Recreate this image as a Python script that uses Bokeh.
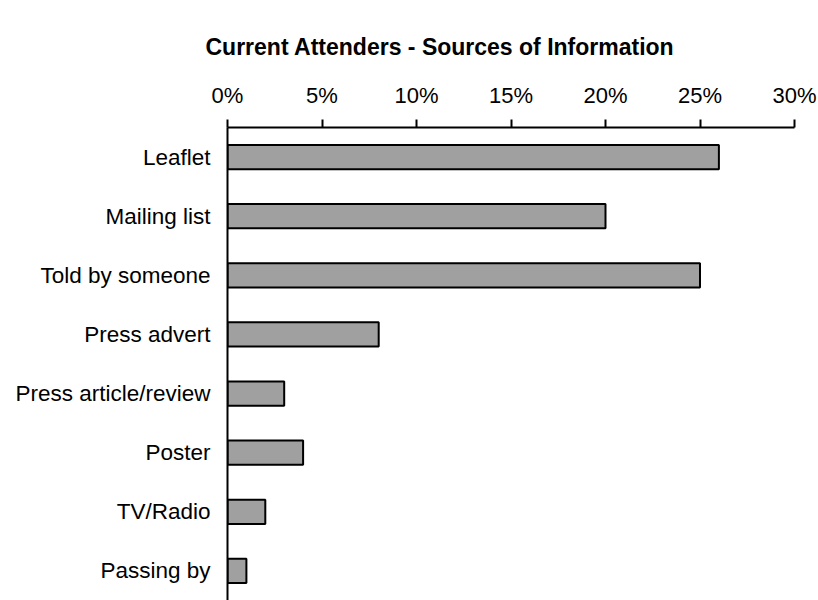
from bokeh.plotting import figure
from bokeh.models import FactorRange, Range1d, FixedTicker, PrintfTickFormatter, ColumnDataSource
from bokeh.embed import file_html
from bokeh.resources import INLINE

categories = ["Leaflet", "Mailing list", "Told by someone", "Press advert",
              "Press article/review", "Poster", "TV/Radio", "Passing by"]
values = [26, 20, 25, 8, 3, 4, 2, 1]
ticks = [0, 5, 10, 15, 20, 25, 30]

src = ColumnDataSource(dict(cat=categories, val=values))

FONT = "Liberation Sans"

p = figure(width=818, height=600, output_backend="svg", toolbar_location=None,
           x_range=Range1d(0, 30), y_range=FactorRange(factors=list(reversed(categories)), range_padding=0),
           x_axis_location="above",
           min_border_left=227, min_border_right=24, min_border_top=127, min_border_bottom=0)

p.hbar(y="cat", right="val", left=0, height=0.41, source=src,
       fill_color="#a0a0a0", line_color="black", line_width=2)

p.title.text = "Current Attenders - Sources of Information"
p.title.text_font = FONT
p.title.text_font_size = "23px"
p.title.text_font_style = "bold"
p.title.text_color = "black"
p.title.align = "left"
p.title.offset = -22
p.title.standoff = 40

p.outline_line_color = None
p.grid.visible = False

xa = p.xaxis[0]
xa.ticker = FixedTicker(ticks=ticks)
xa.formatter = PrintfTickFormatter(format="%d%%")
xa.major_tick_out = 8
xa.major_tick_in = 0
xa.minor_tick_out = 0
xa.minor_tick_in = 0
xa.axis_line_width = 2
xa.major_tick_line_width = 2
xa.axis_line_color = "black"
xa.major_tick_line_color = "black"
xa.major_label_text_font = FONT
xa.major_label_text_font_size = "22px"
xa.major_label_text_color = "black"
xa.major_label_standoff = 12

ya = p.yaxis[0]
ya.major_tick_out = 0
ya.major_tick_in = 0
ya.minor_tick_out = 0
ya.axis_line_width = 2
ya.axis_line_color = "black"
ya.major_label_text_font = FONT
ya.major_label_text_font_size = "22.5px"
ya.major_label_text_color = "black"
ya.major_label_standoff = 17

open("out.html", "w").write(file_html(p, INLINE))
